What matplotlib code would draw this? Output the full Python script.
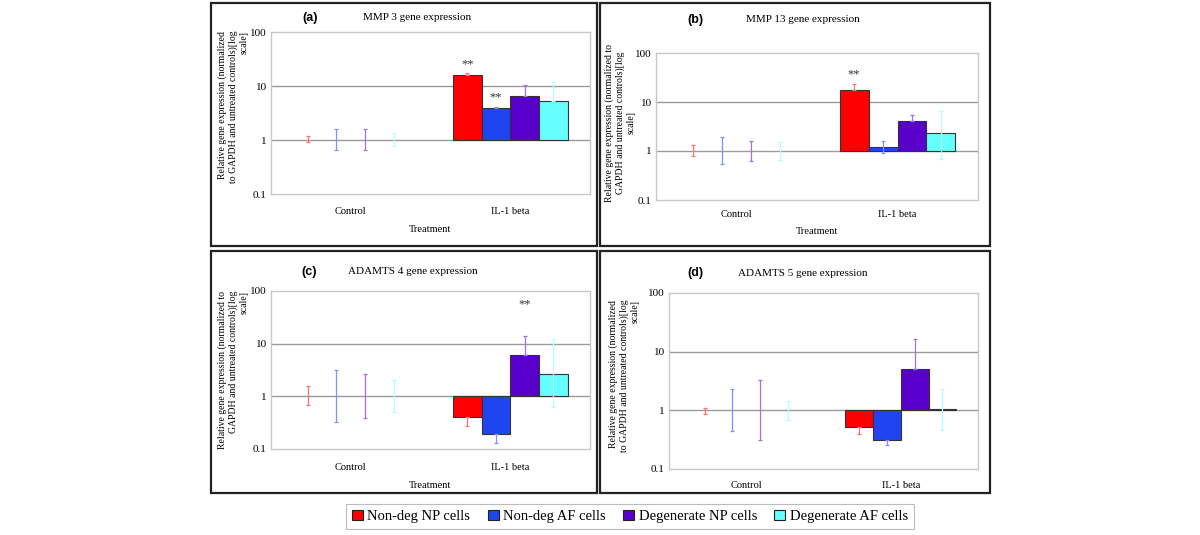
import numpy as np
import matplotlib.pyplot as plt
from matplotlib.patches import Rectangle

plt.rcParams['font.family'] = ['Liberation Serif', 'DejaVu Serif']

W, H = 1200, 535

groups = ['Control', 'IL-1 beta']
series = ['Non-deg NP cells', 'Non-deg AF cells', 'Degenerate NP cells', 'Degenerate AF cells']
titles = ['MMP 3 gene expression', 'MMP 13 gene expression',
          'ADAMTS 4 gene expression', 'ADAMTS 5 gene expression']
letters = ['(a)', '(b)', '(c)', '(d)']

# fold change, one row per cell type, columns = [Control, IL-1 beta]
mmp3 = [[1, 16.0], [1, 3.9], [1, 6.6], [1, 5.2]]
mmp3_lo = [[0.9, 16.0], [0.64, 3.9], [0.64, 6.6], [0.78, 5.2]]
mmp3_hi = [[1.17, 17.5], [1.58, 4.15], [1.58, 10.3], [1.33, 11.8]]

mmp13 = [[1, 17.3], [1, 1.2], [1, 4.1], [1, 2.3]]
mmp13_lo = [[0.8, 17.3], [0.54, 0.9], [0.63, 4.1], [0.64, 0.7]]
mmp13_hi = [[1.3, 23.6], [1.9, 1.6], [1.6, 5.5], [1.55, 6.4]]

adamts4 = [[1, 0.40], [1, 0.19], [1, 6.0], [1, 2.6]]
adamts4_lo = [[0.68, 0.27], [0.33, 0.13], [0.38, 6.0], [0.5, 0.62]]
adamts4_hi = [[1.54, 0.40], [3.15, 0.19], [2.7, 13.9], [2.0, 12.4]]

adamts5 = [[1, 0.52], [1, 0.31], [1, 5.1], [1, 1.04]]
adamts5_lo = [[0.88, 0.39], [0.44, 0.26], [0.31, 5.1], [0.69, 0.46]]
adamts5_hi = [[1.1, 0.52], [2.3, 0.31], [3.3, 16.2], [1.44, 2.3]]

# significance marks: (cell type index, group index, height)
stars_a = [(0, 1, 25), (1, 1, 6.3)]
stars_b = [(0, 1, 36)]
stars_c = [(2, 1, 56)]
stars_d = []

data = [(mmp3, mmp3_lo, mmp3_hi, stars_a),
        (mmp13, mmp13_lo, mmp13_hi, stars_b),
        (adamts4, adamts4_lo, adamts4_hi, stars_c),
        (adamts5, adamts5_lo, adamts5_hi, stars_d)]

bar_colors = ['#ff0000', '#1f45f0', '#5a00cc', '#66ffff']
err_colors = ['#ff7070', '#7f8fff', '#a070e0', '#b0ffff']

ylab_a = 'Relative gene expression (normalized\nto GAPDH and untreated controls)[log\nscale]'
ylab_b = 'Relative gene expression (normalized to\nGAPDH and untreated controls)[log\nscale]'

# layout in pixels: box, axes, title y, letter x, title x, ylabel x, ylabel y, tick y, treatment y
panels = [
    dict(box=(211, 3, 597, 246), ax=(271, 32, 590, 194), ty=18, lx=310, tx=417,
         yl=ylab_a, ylx=233, yly=107, yma='right', ticky=212, trty=230),
    dict(box=(600, 3, 990, 246), ax=(656, 53, 978, 200), ty=20, lx=695, tx=803,
         yl=ylab_b, ylx=620, yly=123, yma='center', ticky=215, trty=232),
    dict(box=(211, 251, 597, 493), ax=(271, 291, 590, 449), ty=272, lx=309, tx=413,
         yl=ylab_b, ylx=233, yly=370, yma='right', ticky=467, trty=486),
    dict(box=(600, 251, 990, 493), ax=(669, 293, 978, 469), ty=273, lx=695, tx=803,
         yl=ylab_a, ylx=624, yly=376, yma='right', ticky=486, trty=None),
]


def fx(px):
    return px / W


def fy(py):
    return 1 - py / H


fig = plt.figure(figsize=(12, 5.35), dpi=100)
fig.patch.set_facecolor('white')

width = 0.18
x = np.arange(len(groups))

for p, (vals, lo, hi, stars), title, letter in zip(panels, data, titles, letters):
    l, t, r, b = p['box']
    fig.patches.append(Rectangle((fx(l), fy(b)), fx(r - l), (b - t) / H, fill=False,
                                 edgecolor='#222222', linewidth=1.6,
                                 transform=fig.transFigure))

    l, t, r, b = p['ax']
    ax = fig.add_axes([fx(l), fy(b), fx(r - l), (b - t) / H])
    ax.set_yscale('log')
    ax.set_ylim(0.1, 100)
    ax.set_xlim(-0.5, 1.5)

    for i in range(len(series)):
        v = np.array(vals[i], dtype=float)
        pos = x + (i - 1.5) * width
        lw = [0.8 if h != 0 else 0 for h in v - 1]
        ax.bar(pos, v - 1, bottom=1, width=width, color=bar_colors[i],
               edgecolor='#333333', linewidth=lw, zorder=3)
        yerr = [v - np.array(lo[i]), np.array(hi[i]) - v]
        ax.errorbar(pos, v, yerr=yerr, fmt='none', ecolor=err_colors[i],
                    elinewidth=0.9, capsize=1.5, capthick=0.9, zorder=4)

    for i, g, h in stars:
        ax.text(x[g] + (i - 1.5) * width, h, '**', ha='center', va='center',
                fontsize=9, color='#333333')

    ax.set_yticks([0.1, 1, 10, 100])
    ax.set_yticklabels(['0.1', '1', '10', '100'])
    ax.minorticks_off()
    ax.set_xticks([])
    ax.tick_params(axis='y', length=0, labelsize=8, pad=3)
    for yv in [1, 10]:
        ax.axhline(yv, color='#9a9a9a', linewidth=1.0, zorder=1)
    for s in ax.spines.values():
        s.set_color('#c8c8c8')
        s.set_linewidth(1.0)

    for gx, gname in zip(x, groups):
        px = l + (gx + 0.5) / 2 * (r - l)
        fig.text(fx(px), fy(p['ticky']), gname, ha='center', va='center', fontsize=7.5)
    if p['trty'] is not None:
        fig.text(fx((l + r) / 2), fy(p['trty']), 'Treatment', ha='center',
                 va='center', fontsize=7.5)

    fig.text(fx(p['tx']), fy(p['ty']), title, ha='center', va='center', fontsize=8)
    fig.text(fx(p['lx']), fy(p['ty']), letter, ha='center', va='center', fontsize=9,
             fontweight='bold', family=['Liberation Sans', 'DejaVu Sans'])
    fig.text(fx(p['ylx']), fy(p['yly']), p['yl'], rotation=90, ha='center',
             va='center', multialignment=p['yma'], fontsize=7.0, linespacing=1.2)

handles = [Rectangle((0, 0), 1, 1, facecolor=c, edgecolor='#222222', linewidth=0.8)
           for c in bar_colors]
leg = fig.legend(handles, series, loc='center', bbox_to_anchor=(fx(630), fy(516.5)),
                 ncol=4, fontsize=10.5, frameon=True, fancybox=False, handlelength=0.75,
                 handleheight=0.75, handletextpad=0.3, columnspacing=1.2,
                 borderpad=0.4)
leg.get_frame().set_edgecolor('#aaaaaa')
leg.get_frame().set_linewidth(0.8)

fig.savefig('out.png', dpi=100, facecolor='white')
